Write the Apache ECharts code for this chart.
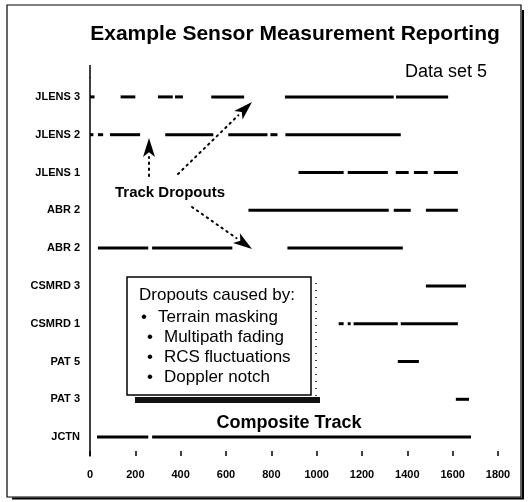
<!DOCTYPE html>
<html>
<head>
<meta charset="utf-8">
<script src="https://cdn.jsdelivr.net/npm/echarts@6/dist/echarts.min.js"></script>
<style>
  html, body { margin: 0; padding: 0; background: #fff; }
  #chart { width: 529px; height: 502px; }
</style>
</head>
<body>
<div id="chart"></div>
<script>
// rows, top to bottom
const rowLabels = ['JLENS 3', 'JLENS 2', 'JLENS 1', 'ABR 2', 'ABR 2', 'CSMRD 3', 'CSMRD 1', 'PAT 5', 'PAT 3', 'JCTN']

// track segments per sensor, [start, end]
const jlens3 = [[0, 20], [135, 200], [300, 365], [375, 410], [535, 680], [860, 1340], [1350, 1580]]
const jlens2 = [[0, 15], [35, 58], [88, 221], [332, 544], [610, 783], [796, 827], [862, 1371]]
const jlens1 = [[920, 1119], [1137, 1314], [1349, 1406], [1429, 1490], [1517, 1623]]
const abr2a = [[699, 1318], [1340, 1415], [1482, 1623]]
const abr2b = [[35, 257], [274, 628], [871, 1380]]
const csmrd3 = [[1482, 1659]]
const csmrd1 = [[1097, 1119], [1137, 1150], [1163, 1358], [1371, 1623]]
const pat5 = [[1358, 1451]]
const pat3 = [[1614, 1672]]
const jctn = [[31, 257], [274, 1681]]

const xMin = 0
const xMax = 1800
const xStep = 200

const legendLines = ['Terrain masking', 'Multipath fading', 'RCS fluctuations', 'Doppler notch']

// build custom series data: [row, start, end]
const tracks = [jlens3, jlens2, jlens1, abr2a, abr2b, csmrd3, csmrd1, pat5, pat3, jctn]
const segData = []
tracks.forEach((segs, row) => {
  segs.forEach(s => segData.push([row, s[0], s[1]]))
})

const FONT = 'Liberation Sans, Arial, sans-serif'

// dotted arrow with a filled head
function arrow (x1, y1, x2, y2) {
  const dx = x2 - x1
  const dy = y2 - y1
  const len = Math.sqrt(dx * dx + dy * dy)
  const ux = dx / len
  const uy = dy / len
  const hl = 19
  const hw = 6
  const bx = x2 - ux * hl
  const by = y2 - uy * hl
  const nx = -uy
  const ny = ux
  return [
    {
      type: 'line',
      z: 100,
      shape: { x1: x1, y1: y1, x2: bx, y2: by },
      style: { stroke: '#000', lineWidth: 2, lineDash: [1.5, 4.5], lineCap: 'round' }
    },
    {
      type: 'polygon',
      z: 100,
      shape: {
        points: [
          [x2, y2],
          [bx + nx * hw, by + ny * hw],
          [x2 - ux * hl * 0.75, y2 - uy * hl * 0.75],
          [bx - nx * hw, by - ny * hw]
        ]
      },
      style: { fill: '#000' }
    }
  ]
}

const legendItems = []
legendLines.forEach((t, i) => {
  const off = i === 0 ? -6 : 0
  legendItems.push({
    type: 'text', z: 102, x: 150 + off, y: 317 + i * 20,
    style: { text: '•', font: '17px ' + FONT, fill: '#000', textAlign: 'center', textVerticalAlign: 'middle' }
  })
  legendItems.push({
    type: 'text', z: 102, x: 164 + off, y: 317 + i * 20,
    style: { text: t, font: '17px ' + FONT, fill: '#000', textVerticalAlign: 'middle' }
  })
})

const myChart = echarts.init(document.getElementById('chart'))
myChart.setOption({
  animation: false,
  backgroundColor: '#fff',
  title: {
    text: 'Example Sensor Measurement Reporting',
    left: 290,
    top: 19,
    textAlign: 'center',
    textStyle: { fontFamily: FONT, fontWeight: 'bold', fontSize: 21, color: '#000' }
  },
  grid: { left: 90, right: 31, top: 78, bottom: 46 },
  xAxis: {
    type: 'value',
    min: xMin,
    max: xMax,
    interval: xStep,
    axisLine: { lineStyle: { color: '#000', width: 1.5 } },
    axisTick: { show: true, inside: true, length: 5, lineStyle: { color: '#000', width: 1.5 } },
    axisLabel: {
      color: '#000', fontFamily: FONT, fontWeight: 'bold', fontSize: 11, margin: 13,
      formatter: v => String(v)
    },
    splitLine: { show: false }
  },
  yAxis: {
    type: 'category',
    inverse: true,
    data: rowLabels,
    axisLine: { show: true, lineStyle: { color: '#000', width: 1.5 } },
    axisTick: { show: false },
    axisLabel: { color: '#000', fontFamily: FONT, fontWeight: 'bold', fontSize: 11, margin: 10 },
    splitLine: { show: false }
  },
  series: [
    {
      type: 'custom',
      clip: false,
      encode: { x: [1, 2], y: 0 },
      data: segData,
      renderItem: function (params, api) {
        const row = api.value(0)
        const p0 = api.coord([api.value(1), row])
        const p1 = api.coord([api.value(2), row])
        return {
          type: 'line',
          shape: { x1: p0[0], y1: p0[1], x2: p1[0], y2: p1[1] },
          style: { stroke: '#000', lineWidth: 3 }
        }
      }
    }
  ],
  graphic: [
    // outer frame
    { type: 'rect', z: 100, shape: { x: 7, y: 5, width: 514, height: 492 }, style: { fill: 'none', stroke: '#000', lineWidth: 1.2 } },
    { type: 'polyline', z: 100, shape: { points: [[12, 498.5], [523, 498.5], [523, 10]] }, style: { fill: 'none', stroke: '#000', lineWidth: 2 } },
    // y axis continues above the first row
    { type: 'line', z: 100, shape: { x1: 90, y1: 65, x2: 90, y2: 78 }, style: { stroke: '#000', lineWidth: 1.5 } },
    {
      type: 'text', z: 100, x: 487, y: 72,
      style: { text: 'Data set 5', font: '18px ' + FONT, fill: '#000', textAlign: 'right', textVerticalAlign: 'middle' }
    },
    {
      type: 'text', z: 100, x: 115, y: 193,
      style: { text: 'Track Dropouts', font: 'bold 15px ' + FONT, fill: '#000', textVerticalAlign: 'middle' }
    },
    ...arrow(149, 176, 149, 138),
    ...arrow(178, 174, 252, 102),
    ...arrow(192, 207, 252, 249),
    // legend box with shadow
    { type: 'rect', z: 101, shape: { x: 135, y: 397, width: 185, height: 6 }, style: { fill: '#111' } },
    { type: 'line', z: 101, shape: { x1: 316, y1: 283, x2: 316, y2: 397 }, style: { stroke: '#000', lineWidth: 1.5, lineDash: [1, 6] } },
    { type: 'rect', z: 101, shape: { x: 127, y: 277, width: 184, height: 118 }, style: { fill: '#fff', stroke: '#000', lineWidth: 1.5 } },
    {
      type: 'text', z: 102, x: 139, y: 295,
      style: { text: 'Dropouts caused by:', font: '17px ' + FONT, fill: '#000', textVerticalAlign: 'middle' }
    },
    ...legendItems,
    {
      type: 'text', z: 100, x: 289, y: 423,
      style: { text: 'Composite Track', font: 'bold 18px ' + FONT, fill: '#000', textAlign: 'center', textVerticalAlign: 'middle' }
    }
  ]
})
</script>
</body>
</html>
